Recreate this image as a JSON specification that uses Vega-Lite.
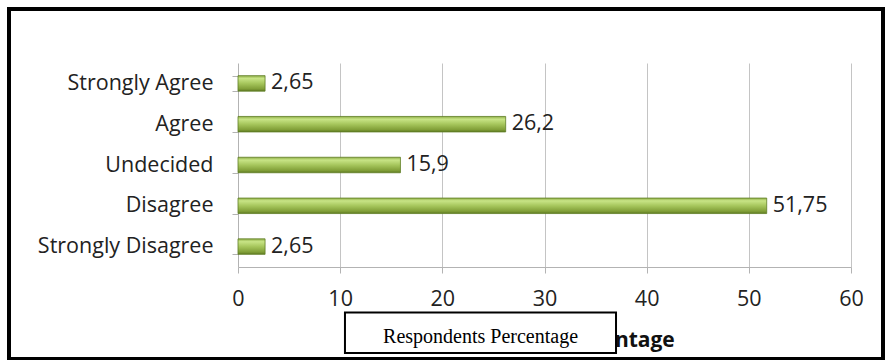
{
  "$schema": "https://vega.github.io/schema/vega-lite/v6.json",
  "width": 874,
  "height": 350,
  "autosize": {"type": "none"},
  "padding": {"left": 9, "top": 9, "right": 2, "bottom": 1},
  "background": "white",
  "config": {
    "view": {"stroke": "black", "strokeWidth": 4},
    "font": "Open Sans",
    "locale": {
      "number": {"decimal": ",", "thousands": ".", "grouping": [3], "currency": ["", " €"]}
    }
  },
  "datasets": {
    "responses": [
      {"answer": "Strongly Agree", "pct": 2.65},
      {"answer": "Agree", "pct": 26.2},
      {"answer": "Undecided", "pct": 15.9},
      {"answer": "Disagree", "pct": 51.75},
      {"answer": "Strongly Disagree", "pct": 2.65}
    ],
    "caption": [{"text": "Respondents Percentage"}]
  },
  "layer": [
    {
      "data": {"name": "responses"},
      "encoding": {
        "y": {
          "field": "answer",
          "type": "nominal",
          "sort": ["Strongly Agree", "Agree", "Undecided", "Disagree", "Strongly Disagree"],
          "scale": {"range": [54, 258], "paddingInner": 0.62, "paddingOuter": 0.31},
          "axis": {
            "title": null,
            "offset": -229,
            "tickBand": "extent",
            "tickSize": 6,
            "tickColor": "#b3b3b3",
            "domainColor": "#b3b3b3",
            "labelPadding": 19,
            "labelFontSize": 21.5,
            "labelColor": "#222222",
            "grid": false,
            "zindex": 0
          }
        }
      },
      "layer": [
        {
          "mark": {
            "type": "bar",
            "stroke": "#5f7d24",
            "strokeWidth": 0.8,
            "color": {
              "gradient": "linear",
              "x1": 0, "y1": 0, "x2": 0, "y2": 1,
              "stops": [
                {"offset": 0, "color": "#8fae47"},
                {"offset": 0.18, "color": "#c8e486"},
                {"offset": 0.5, "color": "#a6c65c"},
                {"offset": 0.85, "color": "#819f38"},
                {"offset": 1, "color": "#5e7a22"}
              ]
            }
          },
          "encoding": {
            "x": {
              "field": "pct",
              "type": "quantitative",
              "scale": {"domain": [0, 60], "range": [229, 842], "nice": false},
              "axis": {
                "title": "Respondents Percentage",
                "orient": "bottom",
                "values": [0, 10, 20, 30, 40, 50, 60],
                "offset": -92,
                "grid": false,
                "tickSize": 6,
                "tickColor": "#b3b3b3",
                "domainColor": "#b3b3b3",
                "labelFlush": false,
                "labelPadding": 15,
                "labelFontSize": 21.5,
                "labelColor": "#222222",
                "titleFontSize": 21,
                "titleFontWeight": "bold",
                "titleColor": "#111111",
                "titlePadding": 20,
                "zindex": 0
              }
            }
          }
        },
        {
          "mark": {"type": "text", "align": "left", "baseline": "middle", "dx": 6, "fontSize": 21.5, "color": "#222222"},
          "encoding": {
            "x": {
              "field": "pct",
              "type": "quantitative",
              "axis": {
                "orient": "top",
                "values": [10, 20, 30, 40, 50, 60],
                "grid": true,
                "gridColor": "#c4c4c4",
                "ticks": false,
                "labels": false,
                "domain": false,
                "title": null,
                "zindex": 0
              }
            },
            "text": {"field": "pct", "type": "quantitative", "format": "~g"}
          }
        }
      ],
      "resolve": {"axis": {"x": "independent"}}
    },
    {
      "data": {"name": "caption"},
      "encoding": {
        "x": {"datum": 10.47, "type": "quantitative", "axis": null},
        "y": {"datum": 0, "type": "quantitative", "scale": {"domain": [0, 1], "range": [303.5, 344]}, "axis": null}
      },
      "layer": [
        {
          "mark": {"type": "rect", "fill": "white", "stroke": "black", "strokeWidth": 2},
          "encoding": {
            "x2": {"datum": 37},
            "y2": {"datum": 1}
          }
        },
        {
          "mark": {"type": "text", "align": "center", "baseline": "alphabetic", "font": "Liberation Serif", "fontSize": 20, "color": "black"},
          "encoding": {
            "x": {"datum": 23.74, "type": "quantitative", "axis": null},
            "y": {"datum": 0.753, "type": "quantitative"},
            "text": {"field": "text"}
          }
        }
      ]
    }
  ],
  "resolve": {"scale": {"y": "independent"}, "axis": {"x": "independent"}}
}
